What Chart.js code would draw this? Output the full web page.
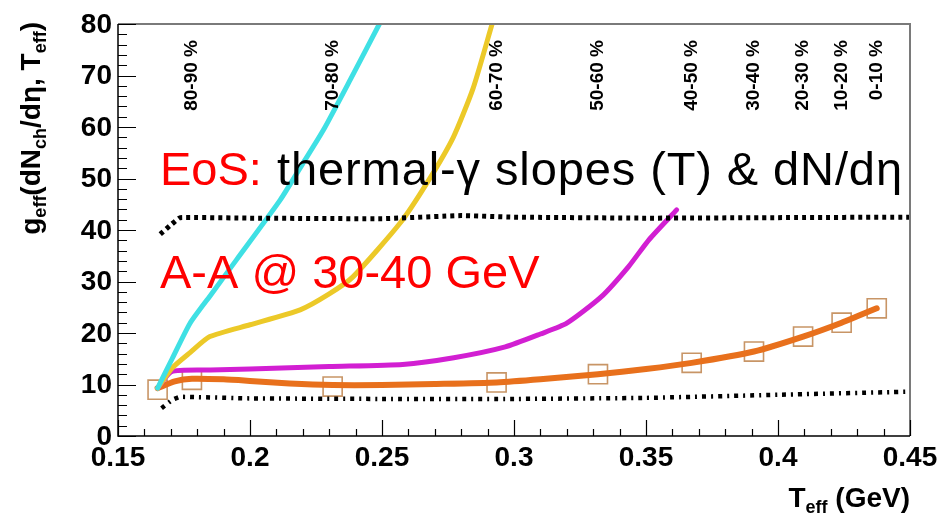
<!DOCTYPE html>
<html>
<head>
<meta charset="utf-8">
<script src="https://cdn.jsdelivr.net/npm/chart.js@4.4.1/dist/chart.umd.min.js"></script>
<style>
  html, body { margin: 0; padding: 0; background: #ffffff; }
  #wrap { width: 939px; height: 520px; }
</style>
</head>
<body>
<div id="wrap"><canvas id="c" width="939" height="520"></canvas></div>
<script>
// g_eff versus effective temperature T_eff (GeV) for A-A collisions at 30-40 GeV

// Equation-of-state curves
const tCyan = [0.165, 0.1705, 0.1773, 0.185, 0.195, 0.2114, 0.22, 0.2278, 0.238, 0.249];
const gCyan = [9.3, 15.0, 21.9, 27.3, 34.3, 45.8, 52.9, 59.4, 69.2, 80];

const tYellow = [0.165, 0.1705, 0.1773, 0.1848, 0.2, 0.219, 0.23, 0.239, 0.2568, 0.267, 0.277, 0.2845, 0.2917];
const gYellow = [9.3, 13.2, 16.2, 19.3, 21.6, 24.5, 27.6, 30.9, 41.3, 49.1, 58.0, 67.5, 80];

const tMagenta = [0.165, 0.1703, 0.185, 0.2, 0.23, 0.2578, 0.2772, 0.2967, 0.31, 0.32, 0.333, 0.3434, 0.3511, 0.3616];
const gMagenta = [9.3, 12.5, 12.8, 13.0, 13.5, 13.9, 15.2, 17.3, 19.8, 21.9, 27.0, 32.9, 38.1, 43.9];

const tOrange = [0.165, 0.1715, 0.178, 0.19, 0.2, 0.215, 0.2313, 0.25, 0.27, 0.2934, 0.31, 0.3318, 0.35, 0.3673, 0.3909, 0.4095, 0.4241, 0.4374];
const gOrange = [9.3, 10.6, 11.1, 11.0, 10.7, 10.2, 9.9, 9.9, 10.1, 10.4, 11.0, 12.0, 13.0, 14.2, 16.4, 19.3, 22.0, 24.8];

// Centrality points (open squares)
const tSquare = [0.165, 0.178, 0.2313, 0.2934, 0.3318, 0.3673, 0.3909, 0.4095, 0.4241, 0.4374];
const gSquare = [9.0, 10.9, 9.6, 10.4, 12.0, 14.2, 16.4, 19.3, 22.0, 24.8];
// Centrality classes written above the points from tSquare[1] onward
const centralityLabels = ['80-90 %', '70-80 %', '60-70 %', '50-60 %', '40-50 %', '30-40 %', '20-30 %', '10-20 %', '0-10 %'];

// Reference bands (black broken lines)
const tUpper = [0.166, 0.1705, 0.1735, 0.2, 0.25, 0.28, 0.3, 0.35, 0.4, 0.45];
const gUpper = [39.2, 41.2, 42.4, 42.3, 42.2, 42.8, 42.5, 42.3, 42.4, 42.5];

const tLower = [0.1665, 0.1705, 0.1735, 0.2, 0.25, 0.3, 0.35, 0.4, 0.45];
const gLower = [5.4, 7.0, 7.6, 7.3, 7.2, 7.2, 7.4, 8.0, 8.6];

// Axes
const xTickValues = [0.15, 0.2, 0.25, 0.3, 0.35, 0.4, 0.45];
const xTickLabels = ['0.15', '0.2', '0.25', '0.3', '0.35', '0.4', '0.45'];
const yTickValues = [0, 10, 20, 30, 40, 50, 60, 70, 80];
const yTickLabels = ['0', '10', '20', '30', '40', '50', '60', '70', '80'];

const pairs = (xs, ys) => xs.map((v, i) => ({ x: v, y: ys[i] }));

const FONT = "'Liberation Sans', Arial, Helvetica, sans-serif";

function drawRich(ctx, parts, size, subSize, subDrop) {
  // parts laid out left to right from the current origin
  let w = 0;
  parts.forEach(p => {
    ctx.font = 'bold ' + (p.sub ? subSize : size) + 'px ' + FONT;
    p.w = ctx.measureText(p.t).width;
    w += p.w;
  });
  return {
    width: w,
    draw(x0, y0) {
      let x = x0;
      parts.forEach(p => {
        ctx.font = 'bold ' + (p.sub ? subSize : size) + 'px ' + FONT;
        ctx.fillText(p.t, x, y0 + (p.sub ? subDrop : 0));
        x += p.w;
      });
    }
  };
}

const decorations = {
  id: 'decorations',
  afterDatasetsDraw(chart) {
    const { ctx, chartArea: a, scales } = chart;
    const xs = scales.x, ys = scales.y;
    ctx.save();

    // frame
    ctx.strokeStyle = '#7a7a7a';
    ctx.lineWidth = 2;
    ctx.beginPath();
    ctx.moveTo(a.left, a.top);
    ctx.lineTo(a.right, a.top);
    ctx.lineTo(a.right, a.bottom);
    ctx.stroke();

    ctx.strokeStyle = '#000';
    ctx.lineWidth = 1.5;
    ctx.beginPath();
    ctx.moveTo(a.left, a.top);
    ctx.lineTo(a.left, a.bottom);
    ctx.lineTo(a.right, a.bottom);
    ctx.stroke();

    // x ticks every 0.01, major every 0.05
    ctx.lineWidth = 1.2;
    ctx.beginPath();
    for (let i = 0; i <= 30; i++) {
      const px = Math.round(xs.getPixelForValue(0.15 + i * 0.01)) + 0.5;
      const len = i % 5 === 0 ? 16 : 7;
      ctx.moveTo(px, a.bottom);
      ctx.lineTo(px, a.bottom - len);
    }
    // y ticks every 2, major every 10
    for (let i = 0; i <= 40; i++) {
      const py = Math.round(ys.getPixelForValue(i * 2)) + 0.5;
      const len = i % 5 === 0 ? 18 : 9;
      ctx.moveTo(a.left, py);
      ctx.lineTo(a.left + len, py);
    }
    ctx.stroke();

    // tick labels
    ctx.fillStyle = '#000';
    ctx.font = 'bold 28px ' + FONT;
    ctx.textAlign = 'center';
    ctx.textBaseline = 'alphabetic';
    xTickValues.forEach((v, i) => {
      ctx.fillText(xTickLabels[i], xs.getPixelForValue(v), a.bottom + 30);
    });
    ctx.textAlign = 'right';
    ctx.textBaseline = 'middle';
    yTickValues.forEach((v, i) => {
      ctx.fillText(yTickLabels[i], a.left - 6, ys.getPixelForValue(v) + 1);
    });

    // x title: T_eff (GeV), right aligned at the axis end
    ctx.textAlign = 'left';
    ctx.textBaseline = 'alphabetic';
    const xt = drawRich(ctx, [
      { t: 'T' }, { t: 'eff', sub: true }, { t: ' (GeV)' }
    ], 28, 18, 6);
    xt.draw(a.right - xt.width, 507);

    // y title: g_eff(dN_ch/dη, T_eff), rotated, ending near the top
    ctx.save();
    ctx.translate(40, 22);
    ctx.rotate(-Math.PI / 2);
    const yt = drawRich(ctx, [
      { t: 'g' }, { t: 'eff', sub: true }, { t: '(dN' }, { t: 'ch', sub: true },
      { t: '/d\u03b7, T' }, { t: 'eff', sub: true }, { t: ')' }
    ], 28, 18, 6);
    yt.draw(-yt.width, 0);
    ctx.restore();

    // centrality classes, vertical, above each point
    ctx.font = 'bold 19px ' + FONT;
    ctx.textAlign = 'right';
    ctx.textBaseline = 'middle';
    centralityLabels.forEach((lab, i) => {
      const px = xs.getPixelForValue(tSquare[i + 1]);
      ctx.save();
      ctx.translate(px, 40);
      ctx.rotate(-Math.PI / 2);
      ctx.fillText(lab, 0, 0);
      ctx.restore();
    });

    // annotations
    ctx.textAlign = 'left';
    ctx.textBaseline = 'alphabetic';
    ctx.font = '47px ' + FONT;
    ctx.fillStyle = '#ff0000';
    ctx.fillText('EoS:', 160, 185);
    ctx.fillStyle = '#000000';
    ctx.letterSpacing = '0.9px';
    ctx.fillText('thermal-\u03b3 slopes (T) & dN/d\u03b7', 277, 185);
    ctx.letterSpacing = '0px';
    ctx.fillStyle = '#ff0000';
    ctx.fillText('A-A @ 30-40 GeV', 160, 288);

    ctx.restore();
  }
};

const lineDefaults = { showLine: true, pointRadius: 0, fill: false, tension: 0.2, borderCapStyle: 'round', borderJoinStyle: 'round' };

new Chart(document.getElementById('c'), {
  type: 'scatter',
  data: {
    datasets: [
      Object.assign({}, lineDefaults, { label: 'upper', data: pairs(tUpper, gUpper), borderColor: '#000', borderWidth: 5, borderDash: [4, 4], borderCapStyle: 'butt', tension: 0.1 }),
      Object.assign({}, lineDefaults, { label: 'lower', data: pairs(tLower, gLower), borderColor: '#000', borderWidth: 4.5, borderDash: [4, 5, 2, 5], borderCapStyle: 'butt', tension: 0.1 }),
      Object.assign({}, lineDefaults, { label: 'cyan', data: pairs(tCyan, gCyan), borderColor: '#3fe0e4', borderWidth: 5 }),
      Object.assign({}, lineDefaults, { label: 'yellow', data: pairs(tYellow, gYellow), borderColor: '#ecc928', borderWidth: 5 }),
      Object.assign({}, lineDefaults, { label: 'magenta', data: pairs(tMagenta, gMagenta), borderColor: '#d21fd2', borderWidth: 5 }),
      Object.assign({}, lineDefaults, { label: 'orange', data: pairs(tOrange, gOrange), borderColor: '#e8701c', borderWidth: 6 }),
      {
        label: 'centrality', data: pairs(tSquare, gSquare), showLine: false,
        pointStyle: 'rect', pointRadius: 13.5, pointHoverRadius: 13.5,
        pointBackgroundColor: 'rgba(0,0,0,0)', pointBorderColor: '#c89566', pointBorderWidth: 1.6
      }
    ]
  },
  options: {
    responsive: false,
    animation: false,
    devicePixelRatio: 1,
    layout: { padding: { left: 118, right: 29, top: 24, bottom: 84 } },
    plugins: { legend: { display: false }, tooltip: { enabled: false } },
    scales: {
      x: { type: 'linear', min: 0.15, max: 0.45, display: false },
      y: { type: 'linear', min: 0, max: 80, display: false }
    }
  },
  plugins: [decorations]
});
</script>
</body>
</html>
